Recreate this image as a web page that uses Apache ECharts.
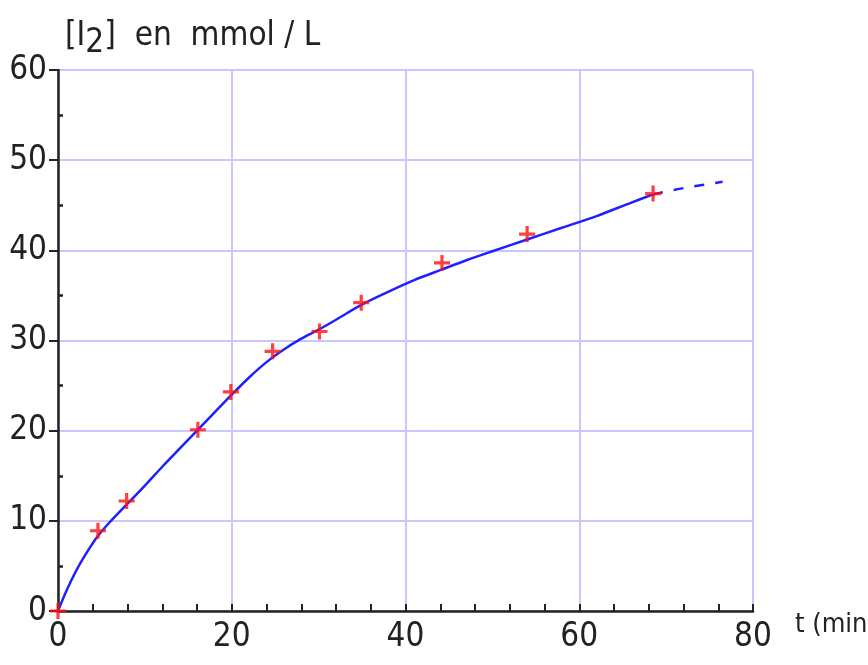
<!DOCTYPE html>
<html>
<head>
<meta charset="utf-8">
<script src="https://cdn.jsdelivr.net/npm/echarts@6/dist/echarts.min.js"></script>
<style>html,body{margin:0;padding:0;background:#fff;overflow:hidden}#c{width:868px;height:665px}</style>
</head>
<body>
<div id="c"></div>
<script>
// Measured points (t in min, [I2] in mmol/L)
const tPoints = [0, 4.6, 7.9, 16.1, 19.9, 24.7, 30.1, 34.9, 44.2, 54, 68.5];
const iPoints = [0, 8.9, 12.2, 20.1, 24.3, 28.8, 31.0, 34.2, 38.6, 41.8, 46.3];
// Fitted curve (solid part)
const tCurve = [0, 1, 2, 3, 4.5, 6, 8, 10, 12, 14, 16, 18, 20, 22, 24, 26, 28, 30, 32, 35, 38, 41, 44, 47, 50, 54, 58, 62, 66, 68.5];
const iCurve = [0, 2.3, 4.3, 6, 8.2, 9.9, 11.9, 13.9, 16, 18, 20, 22, 24, 25.9, 27.6, 29, 30.2, 31.2, 32.3, 34, 35.4, 36.7, 37.8, 38.9, 39.9, 41.2, 42.5, 43.8, 45.3, 46.2];
// Extrapolated curve (dashed part)
const tDash = [68.5, 72, 76.5];
const iDash = [46.2, 46.9, 47.6];
// Axis settings
const xMin = 0, xMax = 80, xStep = 20;
const yMin = 0, yMax = 60, yStep = 10;

const FONT = "'Liberation Sans Narrow', 'DejaVu Sans Condensed', 'Liberation Sans', sans-serif";
const pair = (a, b) => a.map((v, i) => [v, b[i]]);

const chart = echarts.init(document.getElementById('c'), null, {renderer: 'canvas'});
chart.setOption({
  animation: false,
  backgroundColor: '#ffffff',
  title: {
    left: 60, top: 8,
    text: '[I{s|2}]  en  mmol / L',
    textStyle: {
      fontFamily: FONT, fontSize: 33, color: '#222', fontWeight: 'normal',
      rich: { s: { fontFamily: FONT, fontSize: 33, color: '#222', padding: [14, 0, 0, 0] } }
    }
  },
  grid: { left: 58, right: 115, top: 70, bottom: 54, containLabel: false, outerBoundsMode: 'none' },
  xAxis: {
    type: 'value', min: xMin, max: xMax, interval: xStep,
    name: 't (min)', nameLocation: 'end', nameGap: 42,
    nameTextStyle: { fontFamily: FONT, fontSize: 27, color: '#222', verticalAlign: 'top', padding: [0, 0, 0, 0] },
    axisLine: { show: true, onZero: false, lineStyle: { color: '#222', width: 2.5 } },
    axisTick: { show: true, inside: true, length: 7, lineStyle: { color: '#222', width: 2 } },
    minorTick: { show: true, splitNumber: 5, length: 7, lineStyle: { color: '#222', width: 2 } },
    axisLabel: { fontFamily: FONT, fontSize: 33, color: '#222', margin: 10 },
    splitLine: { show: true, lineStyle: { color: '#c8c8ff', width: 2 } }
  },
  yAxis: [{
    type: 'value', min: yMin, max: yMax, interval: yStep,
    axisLine: { show: true, onZero: false, lineStyle: { color: '#222', width: 2.5 } },
    axisTick: { show: true, inside: false, length: 9, lineStyle: { color: '#222', width: 2 } },
    minorTick: { show: false },
    axisLabel: { fontFamily: FONT, fontSize: 33, color: '#222', margin: 11 },
    splitLine: { show: true, lineStyle: { color: '#c8c8ff', width: 2 } }
  }, {
    type: 'value', min: yMin, max: yMax, interval: yStep, position: 'left', offset: 0,
    axisLine: { show: false },
    axisTick: { show: false, inside: true, length: 5 },
    minorTick: { show: true, splitNumber: 2, length: 5, lineStyle: { color: '#222', width: 2.5 } },
    axisLabel: { show: false },
    splitLine: { show: false }
  }],
  series: [{
    type: 'line', data: pair(tCurve, iCurve), smooth: 0.3, showSymbol: false, symbol: 'none',
    lineStyle: { color: '#2020ff', width: 2.5 }, z: 2
  }, {
    type: 'line', data: pair(tDash, iDash), smooth: 0.3, showSymbol: false, symbol: 'none',
    lineStyle: { color: '#2020ff', width: 2.5, type: [10, 11] }, z: 2
  }, {
    type: 'scatter', data: pair(tPoints, iPoints),
    symbol: 'path://M4,0h2v4h4v2h-4v4h-2v-4h-4v-2h4z', symbolSize: 16,
    itemStyle: { color: '#ff1010' }, z: 3
  }]
});
</script>
</body>
</html>
